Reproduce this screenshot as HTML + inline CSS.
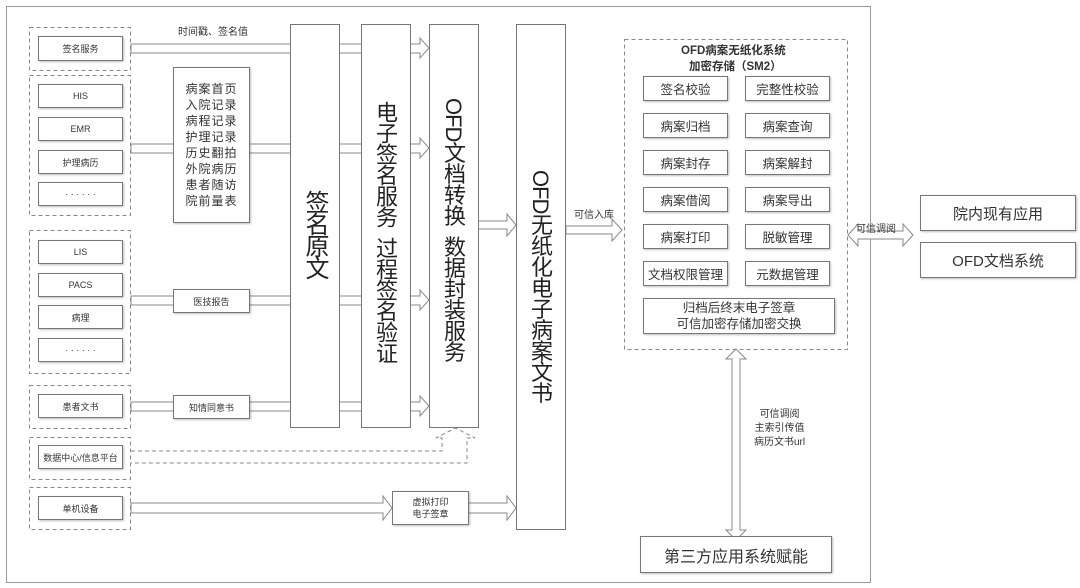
<!DOCTYPE html>
<html><head><meta charset="utf-8"><style>
body{margin:0;background:#fff;}
#c{position:relative;width:1080px;height:588px;overflow:hidden;font-family:"Liberation Sans","Noto Sans CJK SC",sans-serif;color:#333;}
.b{position:absolute;box-sizing:border-box;border:1px solid #777;background:#fff;display:flex;align-items:center;justify-content:center;text-align:center;box-shadow:1px 1px 2px rgba(0,0,0,.25);}
.s{font-size:9px;}
.m{font-size:12.5px;}
.t{position:absolute;font-size:10px;white-space:nowrap;}
.v{position:absolute;writing-mode:vertical-rl;font-size:22px;color:#222;line-height:1;}
</style></head><body><div id="c">
<svg width="1080" height="588" style="position:absolute;left:0;top:0">
<g fill="none" stroke="#999" stroke-width="1">
<rect x="6.5" y="6.5" width="864" height="576"/>
</g>
<g fill="none" stroke="#888" stroke-dasharray="4,3">
<rect x="29.5" y="27.5" width="101" height="43"/>
<rect x="29.5" y="75.5" width="101" height="140"/>
<rect x="29.5" y="230.5" width="101" height="143"/>
<rect x="29.5" y="385.5" width="101" height="43"/>
<rect x="29.5" y="437.5" width="101" height="42"/>
<rect x="29.5" y="487.5" width="101" height="42"/>
<rect x="624.5" y="39.5" width="223" height="310"/>
<polyline points="131,451 442,451 442,438 436,438 455.5,428 475,438 467,438 467,463 131,463"/>
</g>
<g fill="#fff" stroke="#888" stroke-width="1">
<polygon points="131,44 420,44 420,38 429,48 420,58 420,53 131,53"/>
<polygon points="131,144 420,144 420,138 429,148 420,158 420,153 131,153"/>
<polygon points="131,296 420,296 420,290 429,300 420,310 420,305 131,305"/>
<polygon points="131,402 420,402 420,396 429,406 420,416 420,411 131,411"/>
<polygon points="478,221 507,221 507,214 516,225 507,236 507,229 478,229"/>
<polygon points="131,503 383,503 383,496 392,508 383,520 383,513 131,513"/>
<polygon points="468,503 507,503 507,496 516,508 507,520 507,513 468,513"/>
<polygon points="566,226 612,226 612,219 622,230 612,241 612,234 566,234"/>
<polygon points="848,235 858,224 858,231 903,231 903,224 913,235 903,246 903,239 858,239 858,246"/>
<polygon points="736,349 746,359 740,359 740,530 746,530 736,540 726,530 732,530 732,359 726,359"/>
</g>
</svg>
<div class="b s" style="left:38px;top:36px;width:85px;height:25px">签名服务</div>
<div class="b s" style="left:38px;top:84px;width:85px;height:24px">HIS</div>
<div class="b s" style="left:38px;top:117px;width:85px;height:24px">EMR</div>
<div class="b s" style="left:38px;top:150px;width:85px;height:24px">护理病历</div>
<div class="b s" style="left:38px;top:182px;width:85px;height:24px">· · · · · ·</div>
<div class="b s" style="left:38px;top:240px;width:85px;height:24px">LIS</div>
<div class="b s" style="left:38px;top:273px;width:85px;height:24px">PACS</div>
<div class="b s" style="left:38px;top:305px;width:85px;height:24px">病理</div>
<div class="b s" style="left:38px;top:338px;width:85px;height:24px">· · · · · ·</div>
<div class="b s" style="left:38px;top:394px;width:85px;height:24px">患者文书</div>
<div class="b s" style="left:38px;top:445px;width:85px;height:24px">数据中心/信息平台</div>
<div class="b s" style="left:38px;top:496px;width:85px;height:24px">单机设备</div>
<div class="t" style="left:178px;top:23px">时间戳、签名值</div>
<div class="b" style="left:173px;top:67px;width:77px;height:156px;font-size:12px;line-height:16px;letter-spacing:1px">病案首页<br>入院记录<br>病程记录<br>护理记录<br>历史翻拍<br>外院病历<br>患者随访<br>院前量表</div>
<div class="b s" style="left:173px;top:289px;width:77px;height:24px">医技报告</div>
<div class="b s" style="left:173px;top:395px;width:77px;height:24px">知情同意书</div>
<div class="b" style="left:290px;top:24px;width:50px;height:404px;box-shadow:none"></div>
<div class="b" style="left:361px;top:24px;width:50px;height:404px;box-shadow:none"></div>
<div class="b" style="left:429px;top:24px;width:50px;height:404px;box-shadow:none"></div>
<div class="b" style="left:516px;top:24px;width:50px;height:506px;box-shadow:none"></div>
<div class="v" style="left:302px;top:190px;font-size:24px;letter-spacing:-2px">签名原文</div>
<div class="v" style="left:374px;top:101px;letter-spacing:-1px">电子签名服务&nbsp;&nbsp;过程签名验证</div>
<div class="v" style="left:442px;top:98px;letter-spacing:-1px">OFD文档转换&nbsp;&nbsp;数据封装服务</div>
<div class="v" style="left:529px;top:170px;letter-spacing:-1px">OFD无纸化电子病案文书</div>
<div class="b s" style="left:392px;top:491px;width:77px;height:34px;line-height:12px">虚拟打印<br>电子签章</div>
<div class="t" style="left:574px;top:206px">可信入库</div>
<div class="t" style="left:681px;top:42px;font-weight:bold;font-size:11.5px">OFD病案无纸化系统</div>
<div class="t" style="left:689px;top:58px;font-weight:bold;font-size:11.5px">加密存储（SM2）</div>
<div class="b m" style="left:643px;top:76px;width:85px;height:25px">签名校验</div>
<div class="b m" style="left:745px;top:76px;width:85px;height:25px">完整性校验</div>
<div class="b m" style="left:643px;top:113px;width:85px;height:25px">病案归档</div>
<div class="b m" style="left:745px;top:113px;width:85px;height:25px">病案查询</div>
<div class="b m" style="left:643px;top:150px;width:85px;height:25px">病案封存</div>
<div class="b m" style="left:745px;top:150px;width:85px;height:25px">病案解封</div>
<div class="b m" style="left:643px;top:187px;width:85px;height:25px">病案借阅</div>
<div class="b m" style="left:745px;top:187px;width:85px;height:25px">病案导出</div>
<div class="b m" style="left:643px;top:224px;width:85px;height:25px">病案打印</div>
<div class="b m" style="left:745px;top:224px;width:85px;height:25px">脱敏管理</div>
<div class="b m" style="left:643px;top:261px;width:85px;height:25px">文档权限管理</div>
<div class="b m" style="left:745px;top:261px;width:85px;height:25px">元数据管理</div>
<div class="b m" style="left:643px;top:298px;width:192px;height:36px;line-height:16px">归档后终末电子签章<br>可信加密存储加密交换</div>
<div class="t" style="left:856px;top:220px">可信调阅</div>
<div class="b" style="left:920px;top:195px;width:156px;height:36px;font-size:15px">院内现有应用</div>
<div class="b" style="left:920px;top:242px;width:156px;height:36px;font-size:15px">OFD文档系统</div>
<div class="t" style="left:754px;top:408px;text-align:center;line-height:14px">可信调阅<br>主索引传值<br>病历文书url</div>
<div class="b" style="left:640px;top:536px;width:192px;height:37px;font-size:16px">第三方应用系统赋能</div>
</div></body></html>
